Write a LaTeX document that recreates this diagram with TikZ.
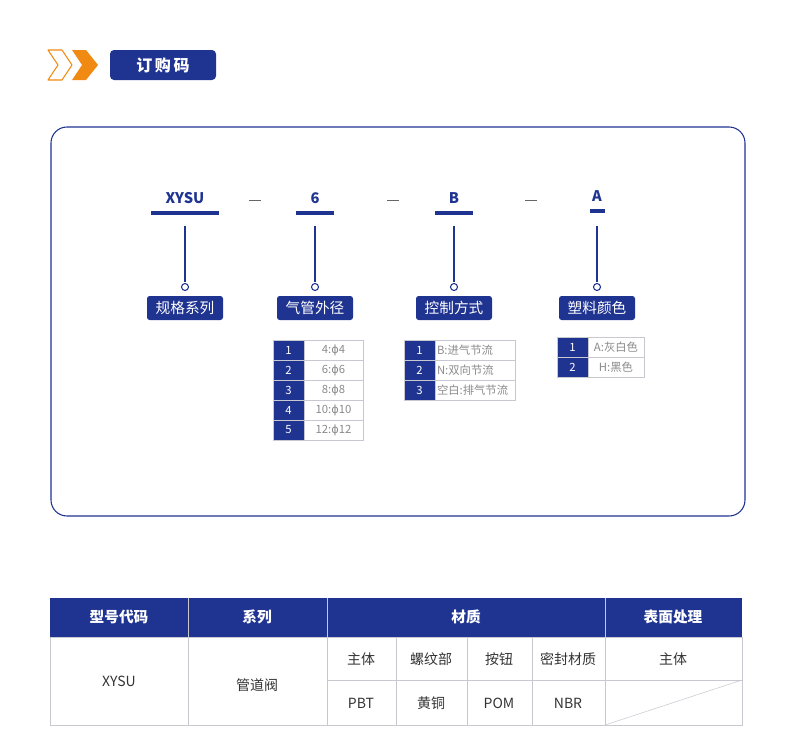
\documentclass[tikz,border=0pt]{standalone}
\usepackage{fontspec}
\setmainfont{Noto Sans CJK SC}
\newfontfamily\djv{DejaVu Sans}
\newcommand{\phisym}{{\djv ϕ}}
\definecolor{nb}{HTML}{1F3391}
\definecolor{og}{HTML}{F08A12}
\definecolor{gl}{HTML}{C8C8D0}
\definecolor{gt}{HTML}{8A8A8A}
\begin{document}
\begin{tikzpicture}[x=0.75pt,y=-0.75pt,
 lab/.style={fill=nb,text=white,rounded corners=2pt,minimum width=76*0.75pt,minimum height=24*0.75pt,inner sep=0pt,font=\fontsize{11}{12}\selectfont},
 code/.style={text=nb,font=\bfseries\fontsize{11}{12}\selectfont,inner sep=0pt},
 ncell/.style={fill=nb,draw=gl,text=white,minimum width=31*0.75pt,minimum height=20*0.75pt,inner sep=0pt,font=\fontsize{8.5}{9}\selectfont},
 tcell/.style={draw=gl,text=gt,minimum height=20*0.75pt,inner sep=0pt,font=\fontsize{8.5}{9}\selectfont},
 hd/.style={text=white,font=\bfseries\fontsize{11}{12}\selectfont},
 bt/.style={text=black!80,font=\fontsize{10.5}{12}\selectfont}]
\useasboundingbox (0,0) rectangle (790,753);
% header
\draw[og,line width=0.8pt,line join=round] (48,50)--(62,50)--(72,65)--(62,80)--(48,80)--(58,65)--cycle;
\fill[og] (72,50)--(86,50)--(98,65)--(86,80)--(72,80)--(82,65)--cycle;
\node[fill=nb,rounded corners=3pt,minimum width=106*0.75pt,minimum height=30*0.75pt,text=white,font=\bfseries\fontsize{12}{13}\selectfont] (title) at (163,65) {订\,购\,码};
% frame
\draw[nb,line width=0.8pt,rounded corners=12pt] (51,127) rectangle (745,516);
% codes
\node[code] (c1) at (185,198) {XYSU};
\node[code] (c2) at (315,198) {6};
\node[code] (c3) at (454,198) {B};
\node[code] (c4) at (597,196) {A};
\foreach \x in {255,393,531} \draw[black!60,line width=0.6pt] (\x-6,200)--(\x+6,200);
\draw[nb,line width=2.5pt] (151,213)--(219,213);
\draw[nb,line width=2.5pt] (296,213)--(334,213);
\draw[nb,line width=2.5pt] (435,213)--(473,213);
\draw[nb,line width=2.5pt] (590,211)--(605,211);
\foreach \x/\n/\t in {185/l1/规格系列,315/l2/气管外径,454/l3/控制方式,597/l4/塑料颜色}{
 \draw[nb,line width=0.8pt] (\x,226)--(\x,282);
 \draw[nb,line width=0.8pt,fill=white] (\x,287) circle (3.5);
 \node[lab] (\n) at (\x,308) {\t};}
% tables
\foreach \i/\t in {1/4:\phisym4,2/6:\phisym6,3/8:\phisym8,4/10:\phisym10,5/12:\phisym12}{
 \node[ncell] (a\i) at (288.5,330+20*\i) {\i};
 \node[tcell,minimum width=59*0.75pt] (at\i) at (333.5,330+20*\i) {\t};}
\foreach \i/\t in {1/B:进气节流,2/N:双向节流,3/空白:排气节流}{
 \node[ncell] (b\i) at (419.5,330+20*\i) {\i};
 \node[tcell,minimum width=80*0.75pt,text width=76*0.75pt,align=left] (bt\i) at (475,330+20*\i) {\t};}
\foreach \i/\t in {1/A:灰白色,2/H:黑色}{
 \node[ncell] (d\i) at (572.5,327+20*\i) {\i};
 \node[tcell,minimum width=56*0.75pt] (dt\i) at (616,327+20*\i) {\t};}
% bottom table
\fill[nb] (50,598) rectangle (742,637);
\draw[gl,line width=0.6pt] (50,637) rectangle (742,725);
\foreach \x in {188,327,605} \draw[gl,line width=0.6pt] (\x,598)--(\x,725);
\draw[gl] (327,680)--(742,680);
\foreach \x in {396,467,532} \draw[gl] (\x,637)--(\x,725);
\draw[gl] (605,725)--(742,680);
\node[hd] (h1) at (119,617) {型号代码};
\node[hd] (h2) at (257,617) {系列};
\node[hd] (h3) at (466,617) {材质};
\node[hd] (h4) at (673,617) {表面处理};
\node[bt] (r1) at (119,681) {XYSU};
\node[bt] (r2) at (257,685) {管道阀};
\node[bt] at (361,659) {主体};
\node[bt] at (431,659) {螺纹部};
\node[bt] at (499,659) {按钮};
\node[bt] at (568,659) {密封材质};
\node[bt] at (673,659) {主体};
\node[bt] at (361,703) {PBT};
\node[bt] at (431,703) {黄铜};
\node[bt] at (499,703) {POM};
\node[bt] at (568,703) {NBR};
\end{tikzpicture}
\end{document}
